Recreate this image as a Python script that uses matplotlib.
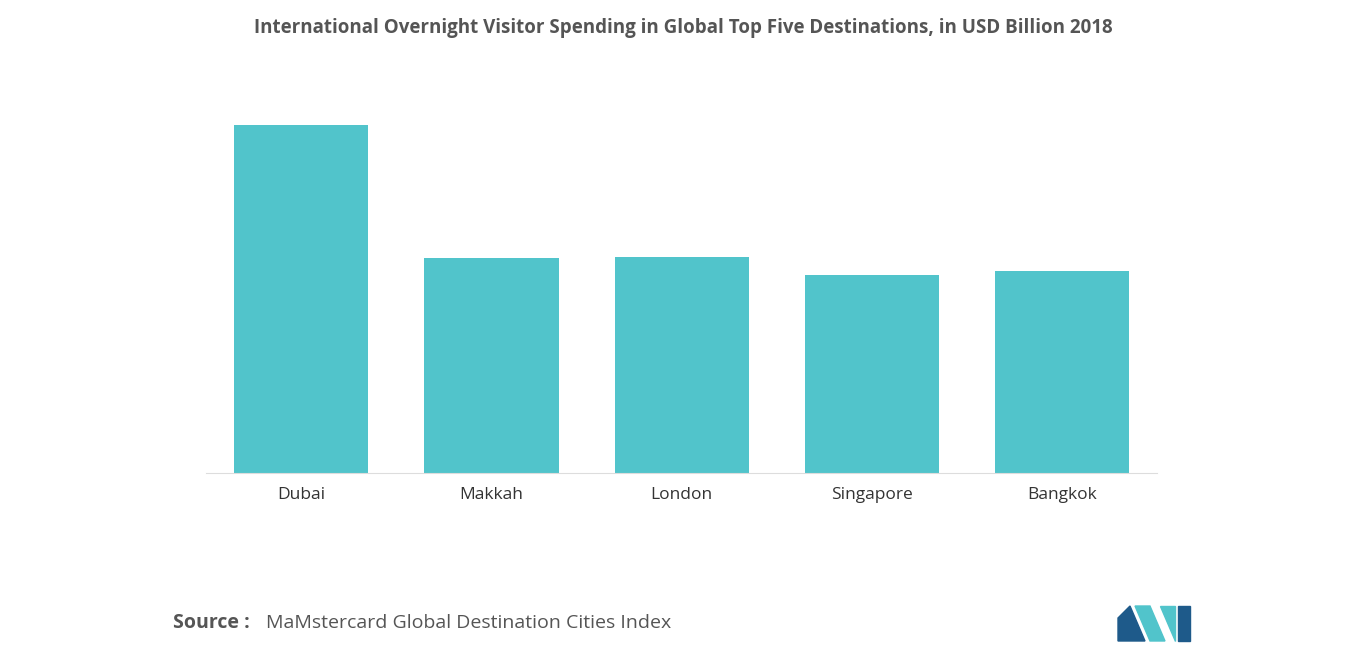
import matplotlib.pyplot as plt
from matplotlib.patches import Polygon

cities = ['Dubai', 'Makkah', 'London', 'Singapore', 'Bangkok']
spending = [30.8, 19.0, 19.1, 17.5, 17.9]

fig = plt.figure(figsize=(13.66, 6.55), dpi=100)
ax = fig.add_axes([0.151, 0.278, 0.696, 0.569])
ax.bar(range(len(cities)), spending, width=0.705, color='#51c4cb')
ax.set_xlim(-0.5, 4.5)
ax.set_ylim(0, 33.0)
ax.set_xticks(range(len(cities)))
ax.set_xticklabels(cities, fontsize=12.5, color='#333333', family='Open Sans')
ax.tick_params(axis='x', length=0, pad=10)
ax.set_yticks([])
for s in ['top', 'right', 'left']:
    ax.spines[s].set_visible(False)
ax.spines['bottom'].set_color('#dddddd')

fig.text(0.5, 0.957, 'International Overnight Visitor Spending in Global Top Five Destinations, in USD Billion 2018',
         ha='center', va='center', fontsize=13.5, fontweight='bold', color='#555555', family='Open Sans')
fig.text(0.127, 0.049, 'Source :', ha='left', va='center', fontsize=14, fontweight='bold', color='#555555', family='Open Sans')
fig.text(0.195, 0.049, 'MaMstercard Global Destination Cities Index', ha='left', va='center', fontsize=14,
         color='#555555', family='Open Sans')

# logo
W, H = 1366, 655
def px(pts):
    return [(x / W, 1 - y / H) for x, y in pts]
fig.patches.append(Polygon(px([(1118, 641), (1118, 618), (1130, 606), (1145, 641)]), closed=True,
                           transform=fig.transFigure, color='#1e5a8a'))
fig.patches.append(Polygon(px([(1135, 606), (1150, 606), (1165, 641), (1150, 641)]), closed=True,
                           transform=fig.transFigure, color='#51c4cb'))
fig.patches.append(Polygon(px([(1160, 606), (1175, 606), (1175, 641)]), closed=True,
                           transform=fig.transFigure, color='#51c4cb'))
fig.patches.append(Polygon(px([(1178, 606), (1190, 606), (1190, 641), (1178, 641)]), closed=True,
                           transform=fig.transFigure, color='#1e5a8a'))

fig.savefig('out.png', dpi=100)
